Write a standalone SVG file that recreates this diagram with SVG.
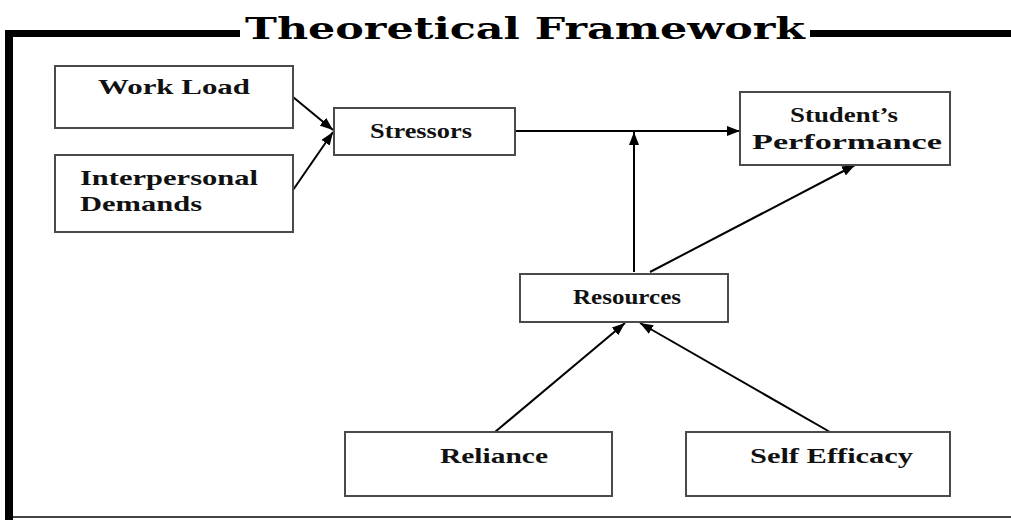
<svg xmlns="http://www.w3.org/2000/svg" width="1011" height="520" viewBox="0 0 1011 520">
<defs>
<style>
.box{fill:#fff;stroke:#4a4a4a;stroke-width:2}
.t{font-family:"Liberation Serif","Times New Roman",serif;font-weight:bold;font-size:21px;fill:#111}
.c{stroke:#000;stroke-width:2;fill:none}
.title{font-family:"DejaVu Serif",serif;font-weight:bold;font-size:30px;fill:#000}
</style>
<marker id="ah" viewBox="0 0 13 10" refX="13" refY="5" markerWidth="13" markerHeight="10" markerUnits="userSpaceOnUse" orient="auto">
<path d="M0,0 L13,5 L0,10 z" fill="#000"/>
</marker>
</defs>
<rect width="1011" height="520" fill="#fff"/>
<g id="frame">
<rect x="5" y="30" width="235" height="7" fill="#000"/>
<rect x="810" y="30" width="201" height="7" fill="#000"/>
<rect x="5" y="30" width="8" height="490" fill="#000"/>
<line x1="13" y1="517" x2="1011" y2="517" stroke="#444" stroke-width="2"/>
<text class="title" x="245" y="39" textLength="560" lengthAdjust="spacingAndGlyphs">Theoretical Framework</text>
</g>
<g id="connectors">
<line class="c" x1="293" y1="97" x2="333" y2="130" marker-end="url(#ah)"/>
<line class="c" x1="293" y1="190" x2="333" y2="132" marker-end="url(#ah)"/>
<line class="c" x1="515" y1="131" x2="740" y2="131" marker-end="url(#ah)"/>
<line class="c" x1="634" y1="272" x2="634" y2="132" marker-end="url(#ah)"/>
<line class="c" x1="650" y1="272" x2="855" y2="165" marker-end="url(#ah)"/>
<line class="c" x1="495" y1="432" x2="625" y2="323" marker-end="url(#ah)"/>
<line class="c" x1="830" y1="432" x2="640" y2="323" marker-end="url(#ah)"/>
</g>
<g id="work-load">
<rect class="box" x="55" y="66" width="238" height="62"/>
<text class="t" x="98" y="94" textLength="152" lengthAdjust="spacingAndGlyphs">Work Load</text>
</g>
<g id="interpersonal-demands">
<rect class="box" x="55" y="155" width="238" height="77"/>
<text class="t" x="80" y="185" textLength="178" lengthAdjust="spacingAndGlyphs">Interpersonal</text>
<text class="t" x="80" y="211" textLength="122" lengthAdjust="spacingAndGlyphs">Demands</text>
</g>
<g id="stressors">
<rect class="box" x="334" y="108" width="181" height="47"/>
<text class="t" x="370" y="138" textLength="102" lengthAdjust="spacingAndGlyphs">Stressors</text>
</g>
<g id="students-performance">
<rect class="box" x="740" y="92" width="210" height="73"/>
<text class="t" x="790" y="122" textLength="108" lengthAdjust="spacingAndGlyphs">Student’s</text>
<text class="t" x="752" y="149" textLength="190" lengthAdjust="spacingAndGlyphs">Performance</text>
</g>
<g id="resources">
<rect class="box" x="520" y="274" width="208" height="48"/>
<text class="t" x="573" y="304" textLength="108" lengthAdjust="spacingAndGlyphs">Resources</text>
</g>
<g id="reliance">
<rect class="box" x="345" y="432" width="267" height="64"/>
<text class="t" x="440" y="463" textLength="108" lengthAdjust="spacingAndGlyphs">Reliance</text>
</g>
<g id="self-efficacy">
<rect class="box" x="686" y="432" width="264" height="64"/>
<text class="t" x="750" y="463" textLength="163" lengthAdjust="spacingAndGlyphs">Self Efficacy</text>
</g>
</svg>
